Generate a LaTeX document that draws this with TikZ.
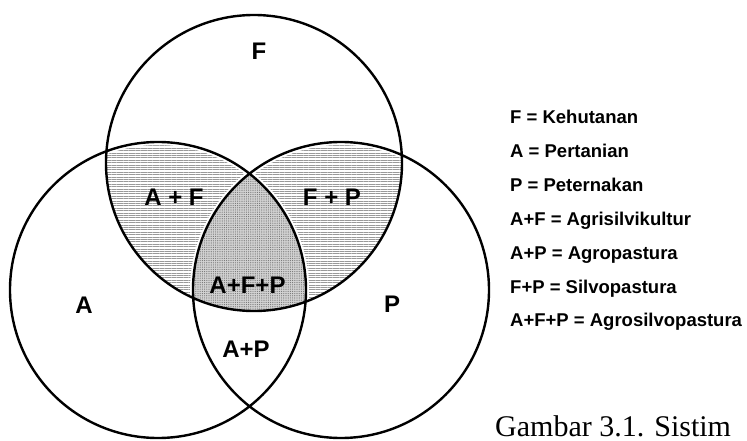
\documentclass[tikz,border=0pt]{standalone}
\usepackage{fontspec}
\newfontfamily\lblfont{Liberation Sans}
\newfontfamily\capfont{Liberation Serif}
\usetikzlibrary{patterns.meta}

\tikzset{
  ring/.style={draw, line width=2.4pt},
  area/.style={font=\lblfont\bfseries\fontsize{24}{24}\selectfont, anchor=base, inner sep=0pt},
  legend/.style={font=\lblfont\bfseries\fontsize{18.5}{18.5}\selectfont, anchor=base west, inner sep=0pt},
  hatch/.style={pattern={Lines[angle=0,distance=2.4pt,line width=0.8pt]}, pattern color=gray!80},
  stipple/.style={pattern={Dots[distance=2.2pt,radius=0.6pt]}, pattern color=gray!90!black}
}

\begin{document}
\begin{tikzpicture}[x=1pt,y=-1pt]
        \def\r{148pt}
        \useasboundingbox (0,0) rectangle (747,441);
        \coordinate (cF) at (254,163);
        \coordinate (cA) at (158,290);
        \coordinate (cP) at (341,290);

        \begin{scope}
          \clip (cF) circle[radius=\r];
          \fill[hatch] (cA) circle[radius=\r];
          \fill[hatch] (cP) circle[radius=\r];
          \draw[white, line width=6pt] (cA) circle[radius=\r] (cP) circle[radius=\r];
        \end{scope}
        \begin{scope}
          \clip (cF) circle[radius=\r];
          \clip (cA) circle[radius=\r];
          \fill[gray!35] (cP) circle[radius=\r];
          \fill[stipple] (cP) circle[radius=\r];
        \end{scope}

        \path[ring] (cF) circle[radius=\r]
                    (cA) circle[radius=\r]
                    (cP) circle[radius=\r];

        \node[area] (lF)   at (259,60)  {F};
        \node[area] (lA)   at (84,313)  {A};
        \node[area] (lP)   at (392,312) {P};
        \node[area] (lAF)  at (174,205) {A + F};
        \node[area] (lFP)  at (332,205) {F + P};
        \node[area] (lAFP) at (247.5,293) {A+F+P};
        \node[area] (lAP)  at (246,357) {A+P};

        \foreach \txt [count=\i] in {F = Kehutanan, A = Pertanian, P = Peternakan,
            A+F = Agrisilvikultur, A+P = Agropastura, F+P = Silvopastura,
            A+F+P = Agrosilvopastura}
          \node[legend] (key\i) at (510,{124+(\i-1)*33.83}) {\txt};

        \node[font=\capfont\fontsize{30}{30}\selectfont, anchor=base west, inner sep=0pt]
              (cap) at (495,436) {Gambar 3.1. Sistim};
\end{tikzpicture}
\end{document}
